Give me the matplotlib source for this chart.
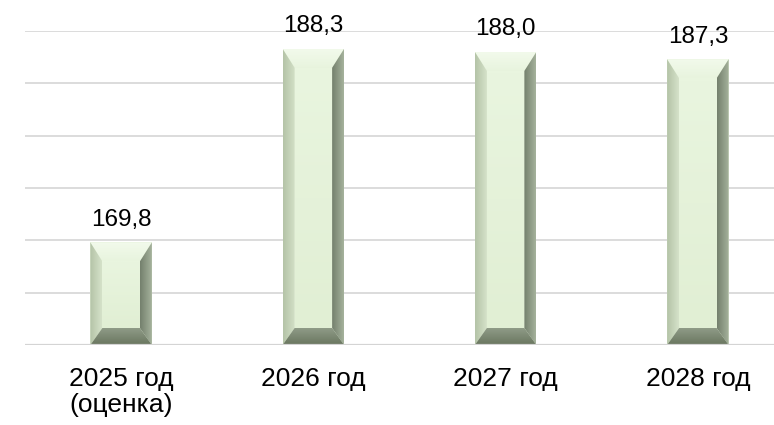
import numpy as np
import matplotlib
matplotlib.use("Agg")
import matplotlib.pyplot as plt
from matplotlib.patches import Polygon
from matplotlib.colors import LinearSegmentedColormap

categories = ["2025 год\n(оценка)", "2026 год", "2027 год", "2028 год"]
values = [169.8, 188.3, 188.0, 187.3]
value_labels = ["169,8", "188,3", "188,0", "187,3"]
y_min, y_max, y_step = 160, 190, 5

W, H, DPI = 774, 425, 100
fig = plt.figure(figsize=(W / DPI, H / DPI), dpi=DPI)
ax_left, ax_bottom, ax_w, ax_h = 25 / W, 80 / H, 769 / W, 314 / H
ax = fig.add_axes([ax_left, ax_bottom, ax_w, ax_h])

FONT = ["Liberation Sans", "DejaVu Sans"]

x = np.arange(len(values))
bar_w = 0.32
bars = ax.bar(x, [v - y_min for v in values], bottom=y_min, width=bar_w,
              color="#e6f2db", edgecolor="none", zorder=3)

ax.set_xlim(-0.5, len(values) - 0.5)
ax.set_ylim(y_min, y_max)

# pixel -> data conversions for bevel sizes
px_per_x = ax_w * W / (len(values))
px_per_y = ax_h * H / (y_max - y_min)
bx = 12 / px_per_x
by_top = 19 / px_per_y
by_bot = 17 / px_per_y


def grad_fill(poly_pts, c0, c1, direction, z=4):
    poly = Polygon(poly_pts, closed=True, facecolor="none", edgecolor="none",
                   transform=ax.transData)
    ax.add_patch(poly)
    xs = [p[0] for p in poly_pts]
    ys = [p[1] for p in poly_pts]
    cmap = LinearSegmentedColormap.from_list("g", [c0, c1])
    g = np.linspace(0, 1, 64)
    if direction == "h":
        arr = g[np.newaxis, :]
    else:
        arr = g[:, np.newaxis]
    im = ax.imshow(arr, cmap=cmap, extent=(min(xs), max(xs), min(ys), max(ys)),
                   origin="lower", aspect="auto", zorder=z, interpolation="bilinear")
    im.set_clip_path(poly)


for b in bars:
    x0 = b.get_x()
    x1 = x0 + b.get_width()
    y0 = b.get_y()
    y1 = y0 + b.get_height()
    # face
    grad_fill([(x0 + bx, y0 + by_bot), (x1 - bx, y0 + by_bot), (x1 - bx, y1 - by_top),
               (x0 + bx, y1 - by_top)], "#e1efd4", "#e9f5df", "v")
    # top bevel
    grad_fill([(x0, y1), (x1, y1), (x1 - bx, y1 - by_top), (x0 + bx, y1 - by_top)],
              "#e8f4de", "#f2faeb", "v")
    # left bevel
    grad_fill([(x0, y0), (x0 + bx, y0 + by_bot), (x0 + bx, y1 - by_top), (x0, y1)],
              "#b4c3a7", "#d5e2c9", "h")
    # right bevel
    grad_fill([(x1, y0), (x1 - bx, y0 + by_bot), (x1 - bx, y1 - by_top), (x1, y1)],
              "#74806d", "#a5b29c", "h")
    # bottom bevel
    grad_fill([(x0, y0), (x1, y0), (x1 - bx, y0 + by_bot), (x0 + bx, y0 + by_bot)],
              "#69765f", "#8f9b87", "v", z=5)

ax.set_xlim(-0.5, len(values) - 0.5)
ax.set_ylim(y_min, y_max)

# grid
for yv in np.arange(y_min + y_step, y_max + 0.01, y_step):
    ax.axhline(yv, color="#d9d9d9", lw=1.3, zorder=1)
ax.axhline(y_min, color="#d4d4d4", lw=1.6, zorder=6)

for s in ax.spines.values():
    s.set_visible(False)
ax.set_yticks([])
ax.set_xticks(x)
ax.set_xticklabels(categories, fontsize=19, family=FONT, linespacing=1.1, va="top")
ax.tick_params(axis="x", length=0, pad=16)

for xi, v, lab in zip(x, values, value_labels):
    ax.annotate(lab, (xi, v), xytext=(0, 12), textcoords="offset points",
                ha="center", va="baseline", fontsize=17.5, family=FONT, zorder=7,
                annotation_clip=False)

fig.savefig("out.png", dpi=DPI)
